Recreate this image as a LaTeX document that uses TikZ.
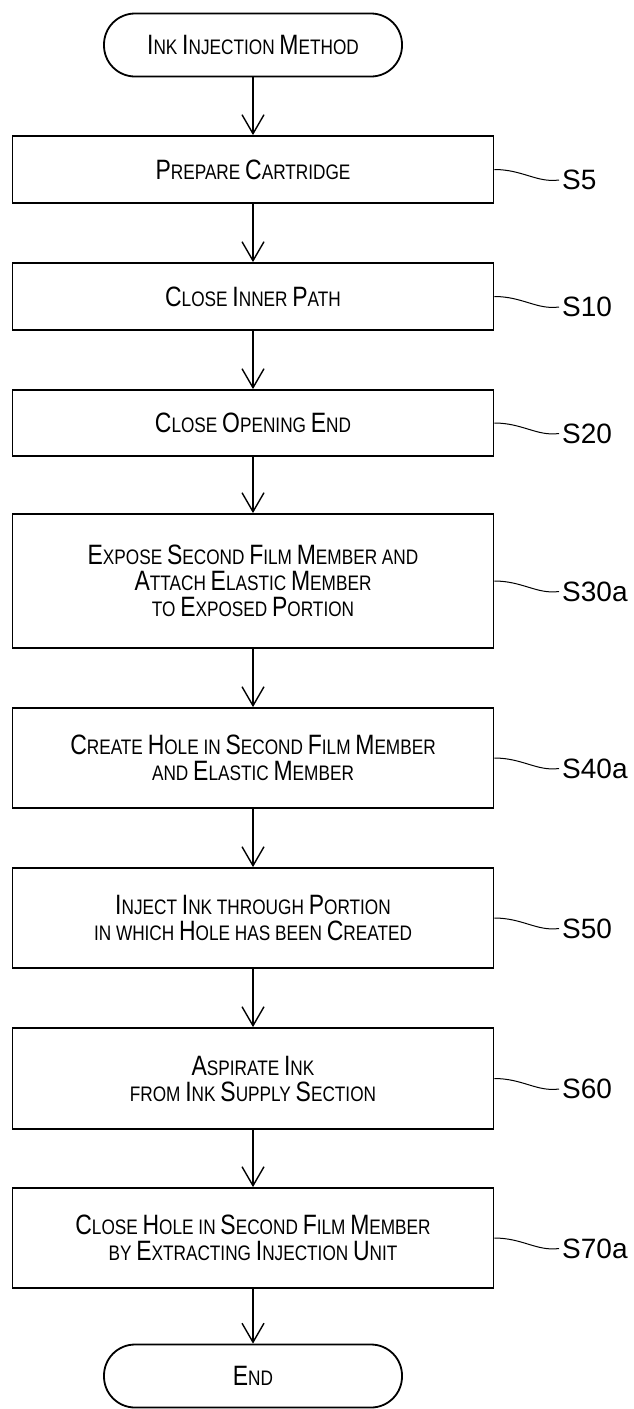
\documentclass[tikz,border=0pt]{standalone}
\usepackage{fontspec}
\setmainfont[FakeStretch=0.82]{Liberation Sans}
\newfontfamily\labfont{Liberation Sans}
\usetikzlibrary{arrows.meta}
\newcommand\Bg[1]{{\fontsize{28}{26}\selectfont #1}}
\tikzset{
  stepbox/.style={draw, line width=1.8pt, minimum width=481pt, inner sep=0pt, align=center, font=\fontsize{21}{26}\selectfont},
  term/.style={draw, line width=1.8pt, rounded corners=31pt, minimum width=298pt, minimum height=63pt, inner sep=0pt, align=center, font=\fontsize{21}{26}\selectfont},
  flow/.style={line width=1.4pt, -{Straight Barb[length=19pt,width=22pt]}},
  steplabel/.style={anchor=west, inner sep=0pt, font=\labfont\fontsize{28}{30}\selectfont},
  wig/.style={line width=1pt}
}
\begin{document}
\begin{tikzpicture}[x=1pt,y=-1pt]
\useasboundingbox (0,0) rectangle (633,1409);
\node[term] (start) at (253,45) {\Bg{I}NK \Bg{I}NJECTION \Bg{M}ETHOD};
\node[stepbox, minimum height=67pt] (b1) at (253,169.5) {\Bg{P}REPARE \Bg{C}ARTRIDGE};
\node[stepbox, minimum height=67pt] (b2) at (253,296.5) {\Bg{C}LOSE \Bg{I}NNER \Bg{P}ATH};
\node[stepbox, minimum height=66pt] (b3) at (253,423) {\Bg{C}LOSE \Bg{O}PENING \Bg{E}ND};
\node[stepbox, minimum height=134pt] (b4) at (253,581) {\Bg{E}XPOSE \Bg{S}ECOND \Bg{F}ILM \Bg{M}EMBER AND\\\Bg{A}TTACH \Bg{E}LASTIC \Bg{M}EMBER\\TO \Bg{E}XPOSED \Bg{P}ORTION};
\node[stepbox, minimum height=100pt] (b5) at (253,758) {\Bg{C}REATE \Bg{H}OLE IN \Bg{S}ECOND \Bg{F}ILM \Bg{M}EMBER\\AND \Bg{E}LASTIC \Bg{M}EMBER};
\node[stepbox, minimum height=100pt] (b6) at (253,918) {\Bg{I}NJECT \Bg{I}NK THROUGH \Bg{P}ORTION\\IN WHICH \Bg{H}OLE HAS BEEN \Bg{C}REATED};
\node[stepbox, minimum height=101pt] (b7) at (253,1078.5) {\Bg{A}SPIRATE \Bg{I}NK\\FROM \Bg{I}NK \Bg{S}UPPLY \Bg{S}ECTION};
\node[stepbox, minimum height=100pt] (b8) at (253,1238) {\Bg{C}LOSE \Bg{H}OLE IN \Bg{S}ECOND \Bg{F}ILM \Bg{M}EMBER\\BY \Bg{E}XTRACTING \Bg{I}NJECTION \Bg{U}NIT};
\node[term] (end) at (253,1376) {\Bg{E}ND};

\draw[flow] (start.south) -- (b1.north);
\draw[flow] (b1.south) -- (b2.north);
\draw[flow] (b2.south) -- (b3.north);
\draw[flow] (b3.south) -- (b4.north);
\draw[flow] (b4.south) -- (b5.north);
\draw[flow] (b5.south) -- (b6.north);
\draw[flow] (b6.south) -- (b7.north);
\draw[flow] (b7.south) -- (b8.north);
\draw[flow] (b8.south) -- (end.north);

\node[steplabel] (l1) at (562,180) {S5};
\node[steplabel] (l2) at (562,307) {S10};
\node[steplabel] (l3) at (562,433.5) {S20};
\node[steplabel] (l4) at (562,591.5) {S30a};
\node[steplabel] (l5) at (562,768.5) {S40a};
\node[steplabel] (l6) at (562,928.5) {S50};
\node[steplabel] (l7) at (562,1089) {S60};
\node[steplabel] (l8) at (562,1248.5) {S70a};

\foreach \b/\l in {b1/l1,b2/l2,b3/l3,b4/l4,b5/l5,b6/l6,b7/l7,b8/l8}{
  \draw[wig] (\b.east) .. controls +(28,0) and +(-22,3) .. ([xshift=-3pt]\l.west);
}
\end{tikzpicture}
\end{document}
